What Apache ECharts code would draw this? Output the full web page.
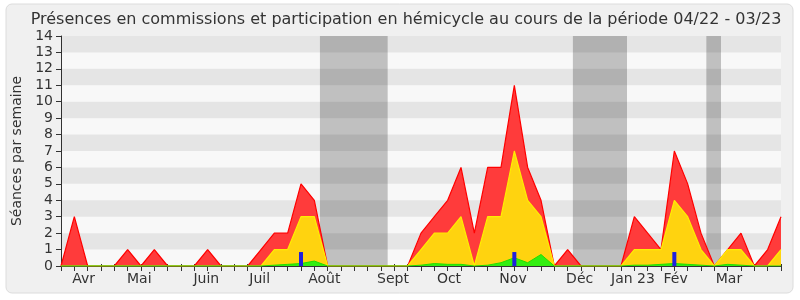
<!DOCTYPE html>
<html><head><meta charset="utf-8">
<script src="https://cdn.jsdelivr.net/npm/echarts@6/dist/echarts.min.js"></script>
<style>html,body{margin:0;padding:0;background:#fff}#c{width:800px;height:300px}</style>
</head><body><div id="c"></div>
<script>
// week index 0..54 (weekly points, 04/22 - 03/23)
const weeks = Array.from({length: 55}, (_, i) => i);
const presenceTotal = [0,3,0,0,0,1,0,1,0,0,0,1,0,0,0,1,2,2,5,4,0,0,0,0,0,0,0,2,3,4,6,2,6,6,11,6,4,0,1,0,0,0,0,3,2,1,7,5,2,0,1,2,0,1,3];
const commissions   = [0,0,0,0,0,0,0,0,0,0,0,0,0,0,0,0,1,1,3,3,0,0,0,0,0,0,0,1,2,2,3,0,3,3,7,4,3,0,0,0,0,0,0,1,1,1,4,3,1,0,1,1,0,0,1];
const hemicycle     = [0,0,0,0,0,0,0,0,0,0,0,0,0,0,0,0,0.05,0.1,0.15,0.3,0,0,0,0,0,0,0,0.05,0.15,0.1,0.1,0,0.05,0.2,0.5,0.2,0.7,0,0,0,0,0,0,0.05,0.05,0.1,0.15,0.1,0.05,0,0.1,0.05,0,0,0];
const questions     = [null,null,null,null,null,null,null,null,null,null,null,null,null,null,null,null,null,null,0.85,null,null,null,null,null,null,null,null,null,null,null,null,null,null,null,0.85,null,null,null,null,null,null,null,null,null,null,null,0.85,null,null,null,null,null,null,null,null];
const monthLabels = ['Avr','Mai','Juin','Juil','Août','Sept','Oct','Nov','Déc','Jan 23','Fév','Mar'];
const monthPos    = [1.69,5.87,10.9,14.9,19.75,24.9,29.1,33.9,38.9,42.9,46.1,50.1];
const vacations   = [[19.42,24.5],[38.39,42.45],[48.4,49.5]];
const yTicks = [0,1,2,3,4,5,6,7,8,9,10,11,12,13,14];

const pair = arr => weeks.map(i => [i, arr[i]]);
const stripes = [];
for (let y = 1; y < 14; y += 2) stripes.push([{xAxis: 0, yAxis: y}, {xAxis: 54, yAxis: y + 1}]);
const font = 'DejaVu Sans';

const chart = echarts.init(document.getElementById('c'), null, {renderer: 'canvas'});
chart.setOption({
  animation: false,
  backgroundColor: '#ffffff',
  textStyle: {fontFamily: font},
  graphic: [{type: 'rect', z: -10, silent: true,
    shape: {x: 6, y: 4, width: 787, height: 289, r: 6},
    style: {fill: '#f0f0f0', stroke: '#dcdcdc', lineWidth: 1}}],
  title: {
    text: 'Présences en commissions et participation en hémicycle au cours de la période 04/22 - 03/23',
    left: 401, textAlign: 'center', top: 7,
    textStyle: {fontFamily: font, fontSize: 16, fontWeight: 'normal', color: '#333'}
  },
  grid: {left: 61, right: 19, top: 36, bottom: 34, show: true, backgroundColor: '#f8f8f8', borderWidth: 0},
  xAxis: [{
    type: 'value', min: 0, max: 54, interval: 1,
    axisLine: {show: true, onZero: false, lineStyle: {color: '#333'}},
    axisTick: {show: true, length: 5, lineStyle: {color: '#333'}, customValues: weeks},
    axisLabel: {show: true, customValues: monthPos, margin: 6, fontSize: 14, color: '#333', fontFamily: font,
      formatter: v => { const k = monthPos.findIndex(p => Math.abs(p - v) < 1e-6); return k >= 0 ? monthLabels[k] : ''; }},
    splitLine: {show: false}
  }, {
    type: 'value', position: 'top', min: 0, max: 54, interval: 1,
    axisLine: {show: false},
    axisTick: {show: true, length: 2, inside: false, lineStyle: {color: '#333'}},
    axisLabel: {show: false}, splitLine: {show: false}
  }],
  yAxis: {
    type: 'value', min: 0, max: 14, interval: 1,
    name: 'Séances par semaine', nameLocation: 'middle', nameGap: 36, nameRotate: 90,
    nameTextStyle: {fontSize: 14, color: '#333', fontFamily: font},
    axisLine: {show: true, lineStyle: {color: '#333'}},
    axisTick: {show: true, length: 5, lineStyle: {color: '#333'}},
    axisLabel: {fontSize: 14, color: '#333', margin: 8, fontFamily: font},
    splitLine: {show: false}
  },
  series: [
    {type: 'line', name: 'vacances', data: [], z: 1, silent: true,
      markArea: {silent: true, itemStyle: {color: '#c0c0c0'},
        data: vacations.map(v => [{xAxis: v[0], yAxis: 0}, {xAxis: v[1], yAxis: 14}])}},
    {type: 'line', name: 'bandes', data: [], z: 2, silent: true,
      markArea: {silent: true, itemStyle: {color: 'rgba(0,0,0,0.075)'}, data: stripes}},
    {type: 'line', name: 'Présences', data: pair(presenceTotal), z: 3, symbol: 'none',
      lineStyle: {color: '#ff0000', width: 1.2}, areaStyle: {color: '#ff3b3b', opacity: 1}},
    {type: 'line', name: 'Commissions', data: pair(commissions), z: 4, symbol: 'none',
      lineStyle: {color: '#ffee00', width: 1.2}, areaStyle: {color: '#ffd30f', opacity: 1}},
    {type: 'line', name: 'Hémicycle', data: pair(hemicycle), z: 5, symbol: 'none',
      lineStyle: {color: '#22dd00', width: 1}, areaStyle: {color: '#33ee11', opacity: 1}},
    {type: 'bar', name: 'Questions', data: pair(questions), z: 6, barWidth: 4,
      itemStyle: {color: '#2020dd'}}
  ]
});
</script></body></html>
